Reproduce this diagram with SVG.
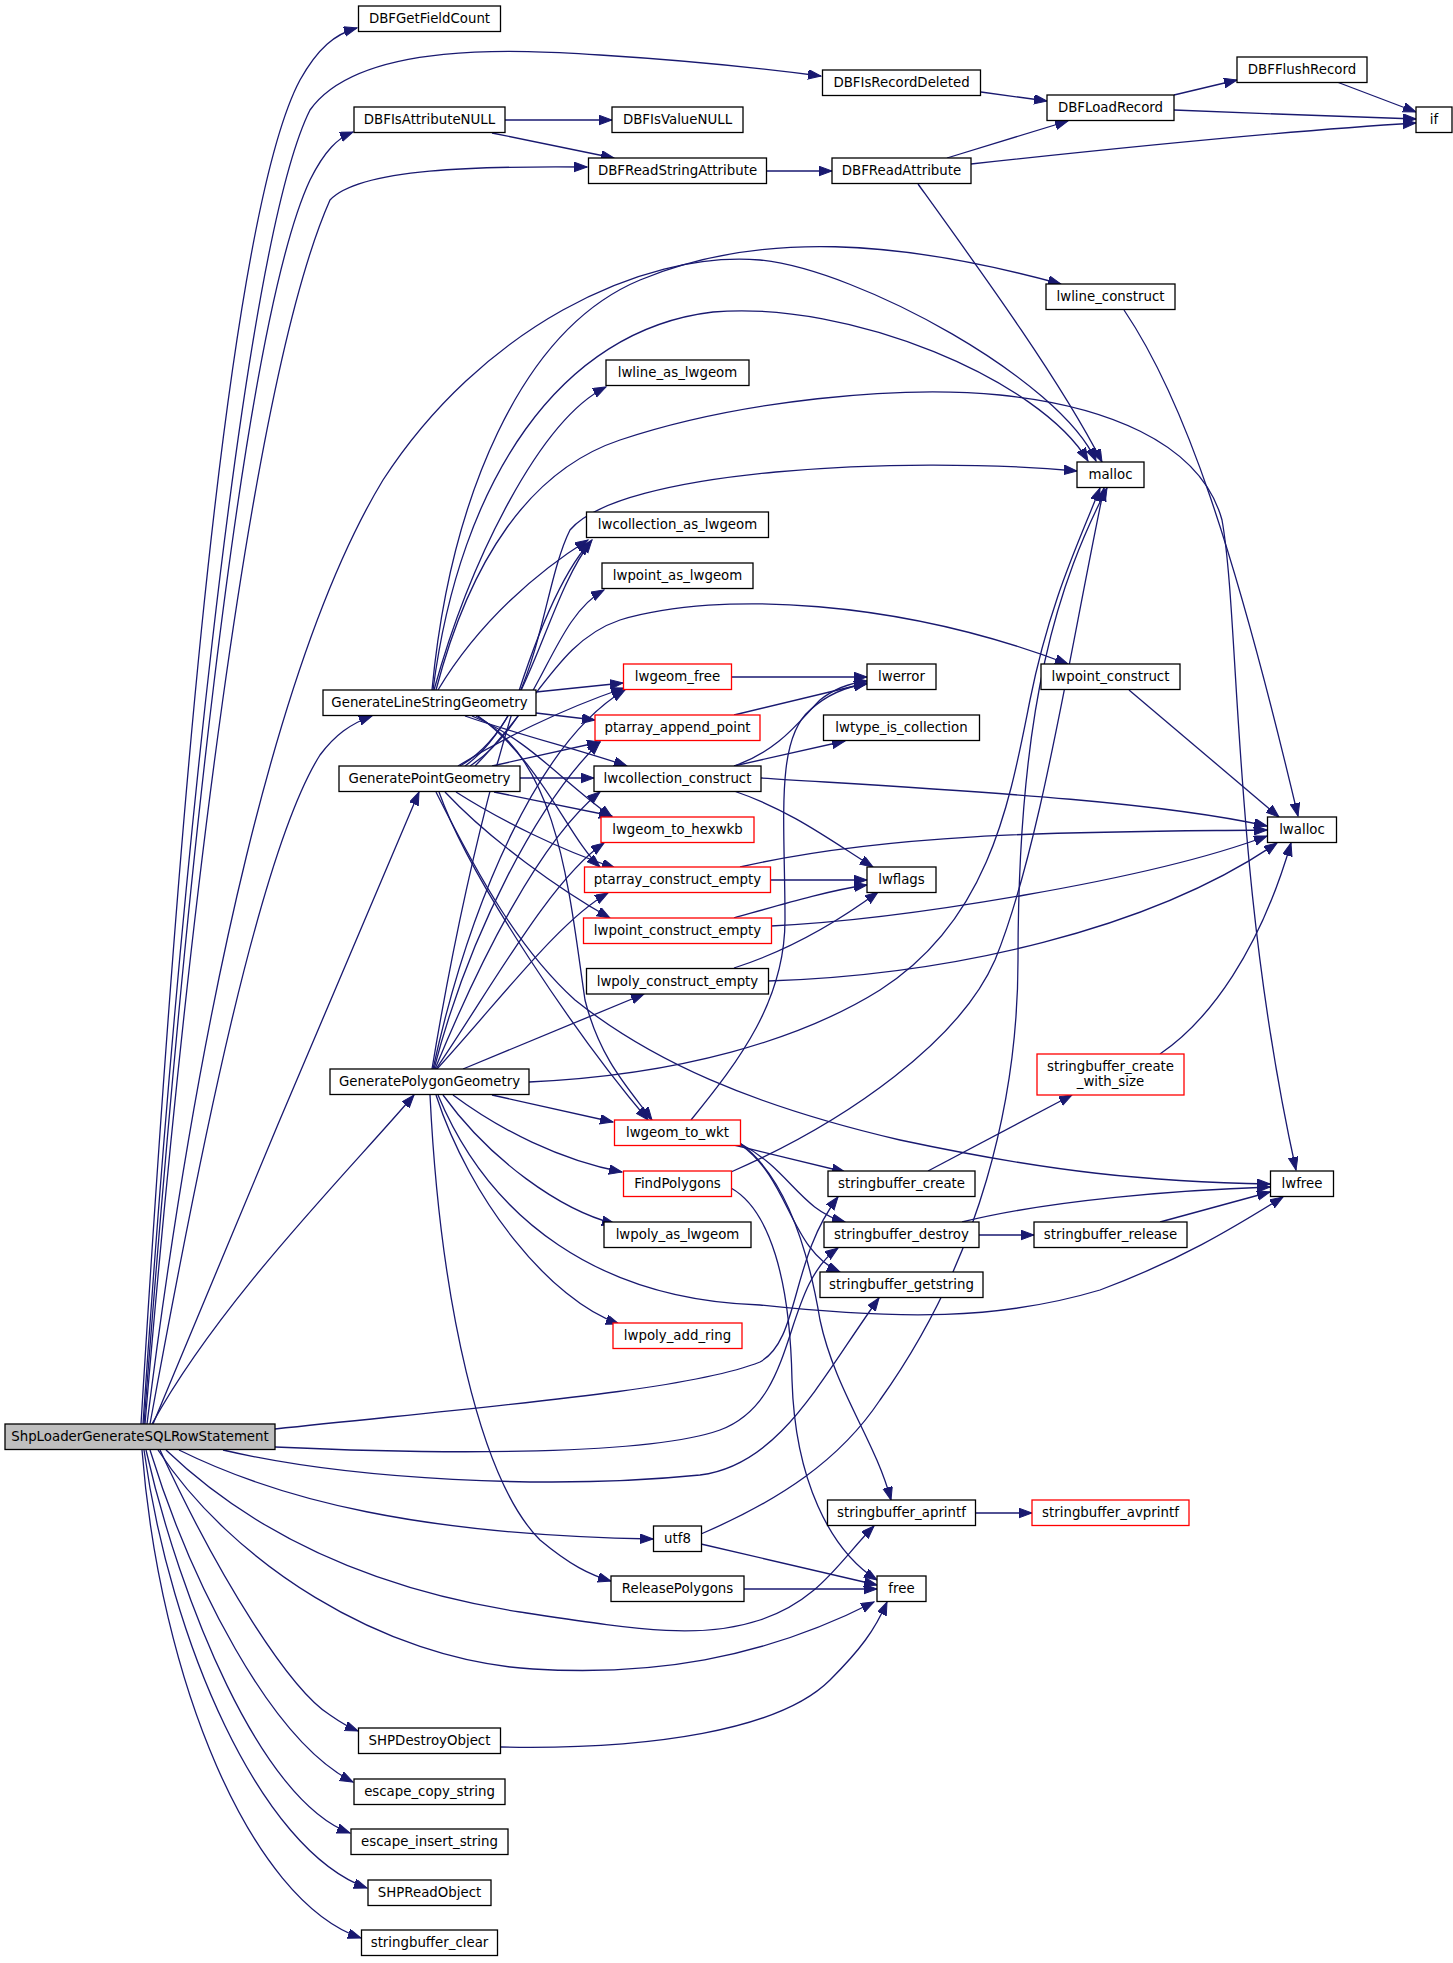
<svg xmlns="http://www.w3.org/2000/svg" width="1453" height="1963" viewBox="0 0 1453 1963">
<style>
.n rect{fill:#fff;stroke:#000;stroke-width:1.3}
.r rect{stroke:#f00}
.root rect{fill:#bfbfbf}
text{font-family:"DejaVu Sans","Noto Sans",sans-serif;font-size:13.33px;text-anchor:middle;fill:#000}
#edges path{fill:none;stroke:#191970;stroke-width:1.3;marker-end:url(#a)}
</style>
<defs>
<marker id="a" markerUnits="userSpaceOnUse" markerWidth="14" markerHeight="11" refX="13" refY="4.8" orient="auto">
<path d="M0,0 L13,4.8 L0,9.6 z" fill="#191970" stroke="#191970" stroke-width="1"/>
</marker>
</defs>
<rect width="1453" height="1963" fill="#fff"/>
<g id="edges">
<path d="M141,1424 C170,950 220,230 300,80 C318,48 335,34 357,28"/>
<path d="M143,1424 C175,950 240,250 310,110 C360,40 520,50 600,55 C680,60 760,68 821,76"/>
<path d="M144,1424 C180,950 240,330 310,180 C325,150 338,138 353,132"/>
<path d="M145,1424 C185,950 250,380 330,200 C360,168 480,166 587,167"/>
<path d="M147,1424 C200,1000 280,650 383,480 C480,330 640,250 760,260 C860,270 1060,380 1096,461"/>
<path d="M150,1424 C200,1150 260,850 320,755 C335,735 350,724 372,716"/>
<path d="M153,1424 C220,1260 360,930 419,792"/>
<path d="M152,1424 C220,1300 350,1170 414,1095"/>
<path d="M275,1429 C500,1405 690,1390 760,1362 C800,1340 790,1260 838,1197"/>
<path d="M275,1447 C450,1455 650,1455 720,1430 C800,1400 780,1290 838,1248"/>
<path d="M223,1450 C350,1480 550,1490 700,1475 C780,1465 820,1380 879,1298"/>
<path d="M179,1450 C280,1500 420,1535 653,1539"/>
<path d="M166,1450 C260,1540 380,1590 520,1612 C640,1630 700,1640 760,1620 C820,1600 840,1560 874,1526"/>
<path d="M158,1450 C230,1560 380,1660 533,1669 C650,1676 760,1660 874,1602"/>
<path d="M160,1450 C220,1580 290,1690 330,1715 C340,1722 348,1727 358,1731"/>
<path d="M150,1450 C190,1580 270,1740 353,1782"/>
<path d="M146,1450 C180,1600 260,1800 350,1833"/>
<path d="M144,1450 C170,1640 260,1850 367,1888"/>
<path d="M142,1450 C160,1680 250,1900 361,1938"/>
<path d="M432,690 C450,500 520,330 640,280 C760,230 900,240 1061,284"/>
<path d="M433,690 C460,480 560,330 713,312 C850,300 1040,380 1088,461"/>
<path d="M434,690 C470,560 540,420 606,387"/>
<path d="M436,690 C470,560 530,470 620,440 C740,400 900,385 1000,395 C1100,405 1200,440 1222,520 C1240,620 1232,880 1296,1170"/>
<path d="M438,690 C480,620 540,570 588,540"/>
<path d="M536,692 L623,683"/>
<path d="M536,713 L595,720"/>
<path d="M465,716 C520,735 580,750 627,766"/>
<path d="M472,716 C530,740 560,780 612,817"/>
<path d="M478,716 C540,760 570,840 600,867"/>
<path d="M476,716 C560,760 570,900 585,1000 C600,1060 630,1090 652,1120"/>
<path d="M460,766 C540,720 540,590 570,530 C620,470 900,455 1077,471"/>
<path d="M465,766 C530,720 545,600 592,540"/>
<path d="M470,766 C540,720 550,620 604,590"/>
<path d="M475,766 C540,700 560,640 620,620 C720,590 900,600 1068,664"/>
<path d="M458,766 C500,740 560,710 624,688"/>
<path d="M492,766 L600,742"/>
<path d="M520,778 L594,778"/>
<path d="M494,792 L612,816"/>
<path d="M456,792 C500,820 560,850 615,868"/>
<path d="M445,792 C490,840 560,890 610,918"/>
<path d="M439,792 C470,880 580,1040 648,1120"/>
<path d="M436,792 C480,880 520,950 575,1000 C650,1060 750,1105 900,1140 C1050,1172 1150,1182 1270,1184"/>
<path d="M432,1069 C460,900 520,620 590,542"/>
<path d="M433,1069 C470,900 540,740 625,690"/>
<path d="M434,1069 C470,930 540,800 600,742"/>
<path d="M435,1069 C480,960 540,840 600,792"/>
<path d="M436,1069 C490,990 550,880 604,843"/>
<path d="M437,1069 C500,1000 560,920 608,893"/>
<path d="M463,1069 L644,994"/>
<path d="M529,1082 C680,1075 800,1040 880,990 C990,920 1010,800 1030,700 C1050,600 1080,540 1100,488"/>
<path d="M492,1095 L613,1122"/>
<path d="M453,1095 C500,1130 560,1160 622,1172"/>
<path d="M443,1095 C490,1160 560,1210 615,1224"/>
<path d="M438,1095 C490,1220 600,1300 760,1305 C900,1320 1000,1320 1100,1290 C1180,1260 1230,1230 1283,1197"/>
<path d="M436,1095 C470,1200 550,1300 619,1324"/>
<path d="M430,1095 C440,1300 480,1480 540,1540 C570,1565 590,1575 611,1581"/>
<path d="M505,120 L612,120"/>
<path d="M492,133 L614,158"/>
<path d="M766,171 L832,171"/>
<path d="M981,92 L1047,101"/>
<path d="M1174,95 L1237,80"/>
<path d="M1174,110 C1250,113 1350,117 1416,119"/>
<path d="M1337,82 L1416,112"/>
<path d="M947,158 L1068,121"/>
<path d="M971,164 C1100,150 1300,130 1416,123"/>
<path d="M918,184 C980,270 1060,380 1102,462"/>
<path d="M731,677 L867,677"/>
<path d="M734,715 L867,683"/>
<path d="M734,766 C780,750 800,720 820,700 C835,688 850,683 867,681"/>
<path d="M691,1120 C740,1060 785,1000 785,920 C785,820 775,740 810,710 C830,692 850,686 867,684"/>
<path d="M734,766 L845,741"/>
<path d="M734,791 C790,810 830,840 873,867"/>
<path d="M761,778 C950,790 1150,800 1267,826"/>
<path d="M770,880 L867,880"/>
<path d="M740,867 C900,830 1100,832 1267,830"/>
<path d="M734,918 C780,905 830,890 867,885"/>
<path d="M771,926 C900,920 1150,880 1267,836"/>
<path d="M734,968 C790,950 840,920 878,892"/>
<path d="M768,981 C950,975 1150,930 1277,843"/>
<path d="M1129,690 L1279,817"/>
<path d="M1124,310 C1185,400 1235,550 1298,816"/>
<path d="M1160,1054 C1210,1020 1260,950 1291,843"/>
<path d="M928,1171 L1072,1095"/>
<path d="M962,1222 C1050,1200 1180,1190 1270,1187"/>
<path d="M979,1235 L1034,1235"/>
<path d="M1160,1222 L1270,1192"/>
<path d="M975,1513 L1032,1513"/>
<path d="M734,1145 L845,1172"/>
<path d="M741,1144 C790,1170 800,1210 845,1222"/>
<path d="M741,1145 C790,1180 790,1250 840,1272"/>
<path d="M740,1143 C790,1180 810,1260 820,1320 C835,1390 875,1440 891,1500"/>
<path d="M731,1172 C850,1120 960,1040 995,960 C1040,850 1070,650 1104,488"/>
<path d="M731,1188 C770,1210 790,1280 792,1380 C795,1480 830,1550 877,1580"/>
<path d="M701,1534 C780,1500 840,1460 880,1400 C980,1260 1018,1100 1018,960 C1018,700 1060,580 1107,488"/>
<path d="M701,1544 L877,1585"/>
<path d="M744,1589 L877,1589"/>
<path d="M501,1747 C650,1750 780,1730 830,1680 C860,1650 875,1630 887,1602"/>
</g>
<g id="n_DBFGetFieldCount" class="n"><rect x="358.5" y="6" width="142" height="25.5"/><text x="429.5" y="23.3">DBFGetFieldCount</text></g>
<g id="n_DBFIsAttributeNULL" class="n"><rect x="354" y="107" width="151" height="25.5"/><text x="429.5" y="124.3">DBFIsAttributeNULL</text></g>
<g id="n_GenerateLineStringGeometry" class="n"><rect x="323" y="690" width="213" height="25.5"/><text x="429.5" y="707.3">GenerateLineStringGeometry</text></g>
<g id="n_GeneratePointGeometry" class="n"><rect x="339" y="766" width="181" height="25.5"/><text x="429.5" y="783.3">GeneratePointGeometry</text></g>
<g id="n_GeneratePolygonGeometry" class="n"><rect x="330" y="1069" width="199" height="25.5"/><text x="429.5" y="1086.3">GeneratePolygonGeometry</text></g>
<g id="n_SHPDestroyObject" class="n"><rect x="358.5" y="1728" width="142" height="25.5"/><text x="429.5" y="1745.3">SHPDestroyObject</text></g>
<g id="n_escape_copy_string" class="n"><rect x="354" y="1779" width="151" height="25.5"/><text x="429.5" y="1796.3">escape_copy_string</text></g>
<g id="n_escape_insert_string" class="n"><rect x="351" y="1829" width="157" height="25.5"/><text x="429.5" y="1846.3">escape_insert_string</text></g>
<g id="n_SHPReadObject" class="n"><rect x="368" y="1880" width="123" height="25.5"/><text x="429.5" y="1897.3">SHPReadObject</text></g>
<g id="n_stringbuffer_clear" class="n"><rect x="361.5" y="1930" width="136" height="25.5"/><text x="429.5" y="1947.3">stringbuffer_clear</text></g>
<g id="n_DBFIsValueNULL" class="n"><rect x="612" y="107" width="131" height="25.5"/><text x="677.5" y="124.3">DBFIsValueNULL</text></g>
<g id="n_DBFReadStringAttribute" class="n"><rect x="588.5" y="158" width="178" height="25.5"/><text x="677.5" y="175.3">DBFReadStringAttribute</text></g>
<g id="n_lwline_as_lwgeom" class="n"><rect x="606" y="360" width="143" height="25.5"/><text x="677.5" y="377.3">lwline_as_lwgeom</text></g>
<g id="n_lwcollection_as_lwgeom" class="n"><rect x="586.5" y="512" width="182" height="25.5"/><text x="677.5" y="529.3">lwcollection_as_lwgeom</text></g>
<g id="n_lwpoint_as_lwgeom" class="n"><rect x="602" y="563" width="151" height="25.5"/><text x="677.5" y="580.3">lwpoint_as_lwgeom</text></g>
<g id="n_lwgeom_free" class="n r"><rect x="623.5" y="664" width="108" height="25.5"/><text x="677.5" y="681.3">lwgeom_free</text></g>
<g id="n_ptarray_append_point" class="n r"><rect x="595" y="715" width="165" height="25.5"/><text x="677.5" y="732.3">ptarray_append_point</text></g>
<g id="n_lwcollection_construct" class="n"><rect x="594" y="766" width="167" height="25.5"/><text x="677.5" y="783.3">lwcollection_construct</text></g>
<g id="n_lwgeom_to_hexwkb" class="n r"><rect x="601" y="817" width="153" height="25.5"/><text x="677.5" y="834.3">lwgeom_to_hexwkb</text></g>
<g id="n_ptarray_construct_empty" class="n r"><rect x="584.5" y="867" width="186" height="25.5"/><text x="677.5" y="884.3">ptarray_construct_empty</text></g>
<g id="n_lwpoint_construct_empty" class="n r"><rect x="583.5" y="918" width="188" height="25.5"/><text x="677.5" y="935.3">lwpoint_construct_empty</text></g>
<g id="n_lwpoly_construct_empty" class="n"><rect x="586.5" y="968.5" width="182" height="25.5"/><text x="677.5" y="985.8">lwpoly_construct_empty</text></g>
<g id="n_lwgeom_to_wkt" class="n r"><rect x="614.5" y="1120" width="126" height="25.5"/><text x="677.5" y="1137.3">lwgeom_to_wkt</text></g>
<g id="n_FindPolygons" class="n r"><rect x="623.5" y="1171" width="108" height="25.5"/><text x="677.5" y="1188.3">FindPolygons</text></g>
<g id="n_lwpoly_as_lwgeom" class="n"><rect x="604" y="1222" width="147" height="25.5"/><text x="677.5" y="1239.3">lwpoly_as_lwgeom</text></g>
<g id="n_lwpoly_add_ring" class="n r"><rect x="613" y="1323" width="129" height="25.5"/><text x="677.5" y="1340.3">lwpoly_add_ring</text></g>
<g id="n_utf8" class="n"><rect x="653.5" y="1526" width="48" height="25.5"/><text x="677.5" y="1543.3">utf8</text></g>
<g id="n_ReleasePolygons" class="n"><rect x="611" y="1576" width="133" height="25.5"/><text x="677.5" y="1593.3">ReleasePolygons</text></g>
<g id="n_DBFIsRecordDeleted" class="n"><rect x="822.5" y="70" width="158" height="25.5"/><text x="901.5" y="87.3">DBFIsRecordDeleted</text></g>
<g id="n_DBFReadAttribute" class="n"><rect x="832" y="158" width="139" height="25.5"/><text x="901.5" y="175.3">DBFReadAttribute</text></g>
<g id="n_lwerror" class="n"><rect x="867" y="664" width="69" height="25.5"/><text x="901.5" y="681.3">lwerror</text></g>
<g id="n_lwtype_is_collection" class="n"><rect x="823.5" y="715" width="156" height="25.5"/><text x="901.5" y="732.3">lwtype_is_collection</text></g>
<g id="n_lwflags" class="n"><rect x="867" y="867" width="69" height="25.5"/><text x="901.5" y="884.3">lwflags</text></g>
<g id="n_stringbuffer_create" class="n"><rect x="828" y="1171" width="147" height="25.5"/><text x="901.5" y="1188.3">stringbuffer_create</text></g>
<g id="n_stringbuffer_destroy" class="n"><rect x="824" y="1222" width="155" height="25.5"/><text x="901.5" y="1239.3">stringbuffer_destroy</text></g>
<g id="n_stringbuffer_getstring" class="n"><rect x="820" y="1272" width="163" height="25.5"/><text x="901.5" y="1289.3">stringbuffer_getstring</text></g>
<g id="n_stringbuffer_aprintf" class="n"><rect x="827.5" y="1500" width="148" height="25.5"/><text x="901.5" y="1517.3">stringbuffer_aprintf</text></g>
<g id="n_free" class="n"><rect x="877" y="1576" width="49" height="25.5"/><text x="901.5" y="1593.3">free</text></g>
<g id="n_DBFLoadRecord" class="n"><rect x="1047" y="95" width="127" height="25.5"/><text x="1110.5" y="112.3">DBFLoadRecord</text></g>
<g id="n_lwline_construct" class="n"><rect x="1046" y="284" width="129" height="25.5"/><text x="1110.5" y="301.3">lwline_construct</text></g>
<g id="n_malloc" class="n"><rect x="1077" y="462" width="67" height="25.5"/><text x="1110.5" y="479.3">malloc</text></g>
<g id="n_lwpoint_construct" class="n"><rect x="1041" y="664" width="139" height="25.5"/><text x="1110.5" y="681.3">lwpoint_construct</text></g>
<g id="n_stringbuffer_create_with_size" class="n r"><rect x="1037" y="1054" width="147" height="41"/><text x="1110.5" y="1071">stringbuffer_create</text><text x="1110.5" y="1086">_with_size</text></g>
<g id="n_stringbuffer_release" class="n"><rect x="1034" y="1222" width="153" height="25.5"/><text x="1110.5" y="1239.3">stringbuffer_release</text></g>
<g id="n_stringbuffer_avprintf" class="n r"><rect x="1032" y="1500" width="157" height="25.5"/><text x="1110.5" y="1517.3">stringbuffer_avprintf</text></g>
<g id="n_DBFFlushRecord" class="n"><rect x="1237" y="57" width="130" height="25.5"/><text x="1302" y="74.3">DBFFlushRecord</text></g>
<g id="n_lwalloc" class="n"><rect x="1267.5" y="817" width="69" height="25.5"/><text x="1302" y="834.3">lwalloc</text></g>
<g id="n_lwfree" class="n"><rect x="1270.5" y="1171" width="63" height="25.5"/><text x="1302" y="1188.3">lwfree</text></g>
<g id="n_if" class="n"><rect x="1416" y="107" width="36" height="25.5"/><text x="1434" y="124.3">if</text></g>
<g id="n_ShpLoaderGenerateSQLRowStatement" class="n root"><rect x="5" y="1424" width="270" height="25.5"/><text x="140" y="1441.3">ShpLoaderGenerateSQLRowStatement</text></g>
</svg>
